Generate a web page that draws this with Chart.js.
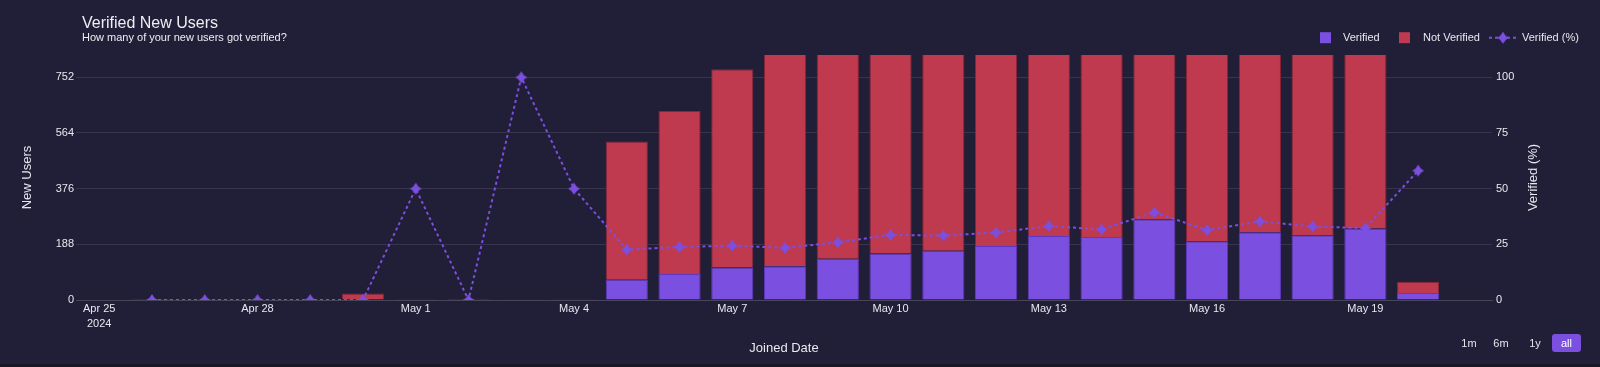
<!DOCTYPE html>
<html><head><meta charset="utf-8">
<script src="https://cdn.jsdelivr.net/npm/chart.js@4.4.1/dist/chart.umd.min.js"></script>
<style>
html,body{margin:0;padding:0;background:#191726;width:1600px;height:367px;overflow:hidden;font-family:"Liberation Sans",Arial,sans-serif;}
#wrap{position:relative;width:1600px;height:364px;background:#211e37;}
#c{position:absolute;left:0;top:0;}
.btn{position:absolute;top:334px;height:18px;line-height:18px;font-size:11px;color:#e6e6ee;text-align:center;border-radius:3px;}
.btn.on{background:#7b4fe0;color:#fff;}
</style></head><body>
<div id="wrap"><canvas id="c" width="1600" height="364"></canvas>
<div class="btn" style="left:1457px;width:24px">1m</div>
<div class="btn" style="left:1489px;width:24px">6m</div>
<div class="btn" style="left:1523px;width:24px">1y</div>
<div class="btn on" style="left:1552px;width:29px">all</div>
</div>
<script>
const titleText = 'Verified New Users';
const subtitleText = 'How many of your new users got verified?';
const startDate = '2024-04-25';
const categories = ['2024-04-26','2024-04-27','2024-04-28','2024-04-29','2024-04-30','2024-05-01','2024-05-02','2024-05-03','2024-05-04','2024-05-05','2024-05-06','2024-05-07','2024-05-08','2024-05-09','2024-05-10','2024-05-11','2024-05-12','2024-05-13','2024-05-14','2024-05-15','2024-05-16','2024-05-17','2024-05-18','2024-05-19','2024-05-20'];
const verified    = [0,0,0,0,0,1,0,1,1,68,88,110,114,139,157,166,182,216,213,273,198,229,219,241,24];
const notVerified = [4,1,1,1,22,1,4,0,1,467,550,669,746,761,773,784,778,774,787,737,782,771,791,779,38];
const verifiedPct = [0,0,0,0,0,50,0,100,50,22.6,23.8,24.4,23.4,25.9,29.2,28.9,30.3,33.2,31.7,39.3,31.4,35.3,33.0,32.3,58.1];
const leftTicks = [0,188,376,564,752];
const rightTicks = [0,25,50,75,100];
const xTickDates = ['2024-04-25','2024-04-28','2024-05-01','2024-05-04','2024-05-07','2024-05-10','2024-05-13','2024-05-16','2024-05-19'];
const xTickLabels = [['Apr 25','2024'],'Apr 28','May 1','May 4','May 7','May 10','May 13','May 16','May 19'];

const FONT = '"Liberation Sans", Arial, sans-serif';
const TXT = '#e8e8ef';
const PURPLE = '#7b4fe0';
const RED = '#bf3a4e';
Chart.defaults.font.family = FONT;
Chart.defaults.color = TXT;

const dayIdx = d => (Date.parse(d) - Date.parse(startDate)) / 86400000;
const pts = arr => categories.map((d, i) => ({x: dayIdx(d), y: arr[i]}));
const xTicks = xTickDates.map(dayIdx);

function makeStar(r, color) {
  const s = Math.ceil(2 * r + 2);
  const cv = document.createElement('canvas');
  cv.width = s; cv.height = s;
  const g = cv.getContext('2d');
  const c = s / 2, k = r * 0.3;
  g.fillStyle = color;
  g.beginPath();
  g.moveTo(c, c - r);
  g.quadraticCurveTo(c + k, c - k, c + r, c);
  g.quadraticCurveTo(c + k, c + k, c, c + r);
  g.quadraticCurveTo(c - k, c + k, c - r, c);
  g.quadraticCurveTo(c - k, c - k, c, c - r);
  g.closePath();
  g.fill();
  return cv;
}
const star = makeStar(6, PURPLE);

const overlay = {
  id: 'overlay',
  afterDraw(chart) {
    const ctx = chart.ctx;
    ctx.save();
    ctx.fillStyle = '#ededf2';
    ctx.textAlign = 'left';
    ctx.textBaseline = 'alphabetic';
    ctx.font = '16px ' + FONT;
    ctx.fillText(titleText, 82, 28);
    ctx.font = '11px ' + FONT;
    ctx.fillText(subtitleText, 82, 40.5);
    const ly = 37.7;
    ctx.fillStyle = PURPLE;
    ctx.fillRect(1320, ly - 5.5, 11, 11);
    ctx.fillStyle = RED;
    ctx.fillRect(1399, ly - 5.5, 11, 11);
    ctx.fillStyle = TXT;
    ctx.textBaseline = 'middle';
    ctx.font = '11px ' + FONT;
    ctx.fillText(chart.data.datasets[0].label, 1343, ly + 0.5);
    ctx.fillText(chart.data.datasets[1].label, 1423, ly + 0.5);
    ctx.fillText(chart.data.datasets[2].label, 1522, ly + 0.5);
    ctx.strokeStyle = PURPLE;
    ctx.lineWidth = 2;
    ctx.setLineDash([3, 3]);
    ctx.beginPath();
    ctx.moveTo(1489, ly); ctx.lineTo(1516, ly);
    ctx.stroke();
    ctx.setLineDash([]);
    ctx.drawImage(star, 1503 - star.width / 2, ly - star.height / 2);
    ctx.translate(1533, (chart.chartArea.top + chart.chartArea.bottom) / 2);
    ctx.rotate(-Math.PI / 2);
    ctx.textAlign = 'center';
    ctx.font = '13px ' + FONT;
    ctx.fillText('Verified (%)', 0, 0);
    ctx.restore();
  }
};

new Chart(document.getElementById('c'), {
  data: {
    datasets: [
      {type: 'bar', label: 'Verified', data: pts(verified), yAxisID: 'y', backgroundColor: PURPLE, borderColor: '#6038c0', borderWidth: 1, barPercentage: 0.8, categoryPercentage: 1, order: 1, clip: 0},
      {type: 'bar', label: 'Not Verified', data: pts(notVerified), yAxisID: 'y', backgroundColor: RED, borderColor: '#8c2436', borderWidth: 1, barPercentage: 0.8, categoryPercentage: 1, order: 1, clip: 0},
      {type: 'line', label: 'Verified (%)', data: pts(verifiedPct), yAxisID: 'y1', borderColor: PURPLE, borderWidth: 2, borderDash: [3, 3], pointStyle: star, pointRadius: 6, fill: false, tension: 0, order: 0, clip: {left: 20, right: 20, top: 20, bottom: 0}}
    ]
  },
  options: {
    responsive: false,
    animation: false,
    layout: {padding: {top: 55, bottom: 4, left: 0, right: 0}},
    plugins: {legend: {display: false}, tooltip: {enabled: false}, title: {display: false}},
    scales: {
      x: {
        type: 'linear', min: -0.44, max: 26.4, stacked: true, offset: false,
        grid: {display: false, drawTicks: false, offset: false},
        border: {display: true, color: '#474559', width: 1},
        ticks: {padding: 1, maxRotation: 0, autoSkip: false, color: TXT, font: {size: 11, lineHeight: 1.4},
          callback: (v, i) => xTickLabels[i]},
        afterBuildTicks: s => { s.ticks = xTicks.map(v => ({value: v})); },
        afterFit: s => { s.height = 60; },
        title: {display: true, text: 'Joined Date', color: TXT, font: {size: 13}, padding: {top: 4, bottom: 4}}
      },
      y: {
        position: 'left', stacked: true, min: 0, max: leftTicks[leftTicks.length - 1] * 1.1,
        grid: {color: 'rgba(255,255,255,0.1)', drawTicks: false},
        border: {display: false},
        ticks: {padding: 2, color: TXT, font: {size: 11}},
        afterBuildTicks: s => { s.ticks = leftTicks.map(v => ({value: v})); },
        afterFit: s => { s.width = 76; },
        title: {display: true, text: 'New Users', color: TXT, font: {size: 13}, padding: {top: 20, bottom: 0}}
      },
      y1: {
        position: 'right', min: 0, max: rightTicks[rightTicks.length - 1] * 1.1,
        grid: {display: false, drawTicks: false},
        border: {display: false},
        ticks: {padding: 4, color: TXT, font: {size: 11}},
        afterBuildTicks: s => { s.ticks = rightTicks.map(v => ({value: v})); },
        afterFit: s => { s.width = 108; }
      }
    }
  },
  plugins: [overlay]
});
</script>
</body></html>
